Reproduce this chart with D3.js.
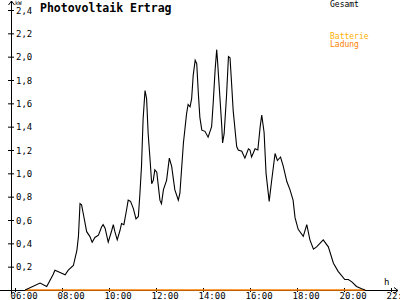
<!DOCTYPE html>
<html>
<head>
<meta charset="utf-8">
<script src="https://cdn.jsdelivr.net/npm/d3@7"></script>
<style>
body{margin:0;background:#fff;}
svg{display:block;}
text{font-family:"DejaVu Sans Mono","Liberation Mono",monospace;}
</style>
</head>
<body>
<script>
// Gesamt (kW) über die Tageszeit
var times = ["06:26","07:04","07:21","07:37","07:42","07:55","08:08","08:16","08:29","08:38",
  "08:42","08:46","08:50","08:54","09:03","09:11","09:17","09:24","09:33","09:41",
  "09:45","09:50","09:58","10:07","10:11","10:15","10:21","10:28","10:32","10:38",
  "10:45","10:49","10:55","11:02","11:09","11:15","11:19","11:23","11:27","11:32",
  "11:36","11:40","11:45","11:49","11:53","11:57","12:02","12:06","12:10","12:14",
  "12:19","12:27","12:34","12:40","12:48","12:57","13:01","13:10","13:18","13:22",
  "13:27","13:31","13:35","13:40","13:44","13:48","13:52","13:57","14:05","14:13",
  "14:22","14:26","14:31","14:35","14:37","14:43","14:48","14:50","14:54","15:00",
  "15:05","15:09","15:13","15:17","15:26","15:30","15:39","15:47","15:56","16:00",
  "16:04","16:13","16:20","16:26","16:30","16:36","16:41","16:49","16:55","17:04",
  "17:10","17:18","17:25","17:34","17:42","17:50","17:55","18:03","18:16","18:25",
  "18:33","18:42","18:50","19:07","19:20","19:33","19:45","20:02","20:11","20:20",
  "20:32","20:45","20:54"];
var gesamt = [0.00,0.06,0.03,0.13,0.17,0.15,0.13,0.17,0.21,0.34,
  0.46,0.74,0.73,0.66,0.50,0.46,0.41,0.45,0.47,0.54,
  0.56,0.53,0.41,0.51,0.56,0.50,0.43,0.51,0.57,0.56,
  0.69,0.77,0.76,0.70,0.61,0.63,0.83,1.06,1.46,1.71,
  1.64,1.34,1.11,0.91,0.94,1.03,1.01,0.89,0.77,0.74,
  0.86,0.94,1.13,1.06,0.86,0.77,0.83,1.26,1.51,1.59,
  1.57,1.64,1.84,1.97,1.94,1.69,1.48,1.37,1.36,1.31,
  1.40,1.60,1.89,2.06,1.97,1.66,1.40,1.26,1.34,1.66,
  2.00,1.99,1.77,1.54,1.23,1.20,1.19,1.13,1.21,1.20,
  1.14,1.21,1.20,1.40,1.50,1.35,1.00,0.76,0.93,1.17,
  1.11,1.14,1.06,0.93,0.86,0.77,0.62,0.52,0.46,0.56,
  0.43,0.35,0.37,0.43,0.37,0.23,0.16,0.09,0.09,0.07,
  0.03,0.01,0.00];
// Batterie Ladung: den ganzen Tag 0
var ladungTimes = ["06:26","20:54"];
var ladung = [0, 0];

var xTicks = [6,8,10,12,14,16,18,20,22];
var yTicks = [0.2,0.4,0.6,0.8,1.0,1.2,1.4,1.6,1.8,2.0,2.2,2.4];

function toHours(s){ var p = s.split(":"); return +p[0] + p[1]/60; }
function hhmm(h){ return (h<10?"0":"")+h+":00"; }
var fmt = d3.format(".1f");

var svg = d3.select("body").append("svg").attr("width",400).attr("height",300);

var x = d3.scaleLinear().domain([6,22]).range([15,391]);
var y = d3.scaleLinear().domain([0,2.4]).range([290,10]);

// x axis
var xAxis = svg.append("g").attr("transform","translate(0,290)")
    .call(d3.axisBottom(x).tickValues(xTicks).tickSize(2).tickFormat(hhmm));
xAxis.select(".domain").remove();
xAxis.selectAll(".tick line").attr("y1",-2).attr("y2",2).attr("stroke","#000");
xAxis.selectAll(".tick text").attr("text-anchor","start").attr("x",-5).attr("y",9)
    .attr("dy",0).attr("font-size","9px").attr("font-family",null).attr("fill","#000");

// y axis
var yAxis = svg.append("g").attr("transform","translate(11,0)")
    .call(d3.axisLeft(y).tickValues(yTicks).tickSize(3)
      .tickFormat(function(d){ return fmt(d).replace(".",","); }));
yAxis.select(".domain").remove();
yAxis.selectAll(".tick line").attr("x1",-3).attr("x2",3).attr("stroke","#000");
yAxis.selectAll(".tick text").attr("text-anchor","start").attr("x",5).attr("dy","0.35em")
    .attr("font-size","9px").attr("font-family",null).attr("fill","#000");

// axis lines with arrows
svg.append("line").attr("x1",0).attr("y1",290.5).attr("x2",398).attr("y2",290.5)
    .attr("stroke","#000").attr("stroke-width",1);
svg.append("polyline").attr("points","394,287.5 398,290.5 394,293.5")
    .attr("fill","none").attr("stroke","#000");
svg.append("line").attr("x1",11.5).attr("y1",1).attr("x2",11.5).attr("y2",294)
    .attr("stroke","#000").attr("stroke-width",1);
svg.append("polyline").attr("points","8.5,5 11.5,1 14.5,5")
    .attr("fill","none").attr("stroke","#000");

svg.append("text").attr("x",15).attr("y",5).attr("font-size","5.5px").text("kW");
svg.append("text").attr("x",384).attr("y",285).attr("font-size","9px").text("h");

// Batterie Ladung
var line = d3.line()
    .x(function(d){ return x(toHours(d[0])); })
    .y(function(d){ return y(d[1]); });

svg.append("path").datum(d3.zip(ladungTimes, ladung))
    .attr("d",line).attr("fill","none").attr("stroke","#ff8000").attr("stroke-width",1.6);

// Gesamt
svg.append("path").datum(d3.zip(times, gesamt))
    .attr("d",line).attr("fill","none").attr("stroke","#000").attr("stroke-width",1.1);

// title + legend
svg.append("text").attr("x",40).attr("y",12).attr("font-size","11.5px")
    .attr("font-weight","bold").text("Photovoltaik Ertrag");
svg.append("text").attr("x",330).attr("y",7).attr("font-size","8px").text("Gesamt");
svg.append("text").attr("x",330).attr("y",39).attr("font-size","8px")
    .attr("fill","#ffb000").text("Batterie");
svg.append("text").attr("x",330).attr("y",47).attr("font-size","8px")
    .attr("fill","#ff8000").text("Ladung");
</script>
</body>
</html>
